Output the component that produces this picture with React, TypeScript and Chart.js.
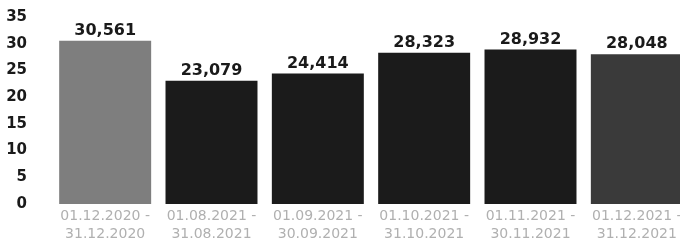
import React, { useEffect, useRef } from "react";
import { Chart, registerables } from "chart.js";

Chart.register(...registerables);

const categories: string[][] = [
  ["01.12.2020 -", "31.12.2020"],
  ["01.08.2021 -", "31.08.2021"],
  ["01.09.2021 -", "30.09.2021"],
  ["01.10.2021 -", "31.10.2021"],
  ["01.11.2021 -", "30.11.2021"],
  ["01.12.2021 -", "31.12.2021"],
];
const values: number[] = [30.561, 23.079, 24.414, 28.323, 28.932, 28.048];
const valueLabels: string[] = ["30,561", "23,079", "24,414", "28,323", "28,932", "28,048"];
const barColors: string[] = ["#7e7e7e", "#1b1b1b", "#1b1b1b", "#1b1b1b", "#1b1b1b", "#3a3a3a"];

const valueLabelPlugin = {
  id: "valueLabels",
  afterDatasetsDraw(chart: any) {
    const ctx = chart.ctx;
    const meta = chart.getDatasetMeta(0);
    ctx.save();
    ctx.font = "bold 16px 'DejaVu Sans'";
    ctx.fillStyle = "#1a1a1a";
    ctx.textAlign = "center";
    ctx.textBaseline = "bottom";
    meta.data.forEach((bar: any, i: number) => {
      ctx.fillText(valueLabels[i], bar.x, bar.y - 2);
    });
    ctx.restore();
  },
};

export default function App() {
  const ref = useRef<HTMLCanvasElement>(null);
  useEffect(() => {
    document.body.style.overflow = "hidden";
    const chart = new Chart(ref.current!, {
      type: "bar",
      data: {
        labels: categories,
        datasets: [
          {
            data: values,
            backgroundColor: barColors,
            borderWidth: 0,
            barPercentage: 0.865,
            categoryPercentage: 1.0,
          },
        ],
      },
      options: {
        animation: false,
        responsive: true,
        maintainAspectRatio: false,
        layout: { padding: { top: 0, left: 0, right: 0, bottom: 0 } },
        plugins: { legend: { display: false }, tooltip: { enabled: false } },
        scales: {
          x: {
            grid: { display: false, drawTicks: false },
            border: { display: false },
            ticks: {
              color: "#b0b0b0",
              font: { family: "'DejaVu Sans'", size: 14, lineHeight: 1.25 },
              padding: 4,
              maxRotation: 0,
              autoSkip: false,
            },
            afterFit: (s: any) => {
              s.height = 46;
            },
          },
          y: {
            min: 0,
            max: 35,
            grid: { display: false, drawTicks: false },
            border: { display: false },
            ticks: {
              stepSize: 5,
              color: "#1a1a1a",
              font: { family: "'DejaVu Sans'", size: 15, weight: "bold" },
              padding: 25,
            },
            afterFit: (s: any) => {
              s.width = 52;
            },
          },
        },
      },
      plugins: [valueLabelPlugin],
    });
    return () => chart.destroy();
  }, []);
  return (
    <div style={{ position: "fixed", left: 0, top: -17, width: 690, height: 267, background: "#fff" }}>
      <canvas ref={ref} />
    </div>
  );
}
